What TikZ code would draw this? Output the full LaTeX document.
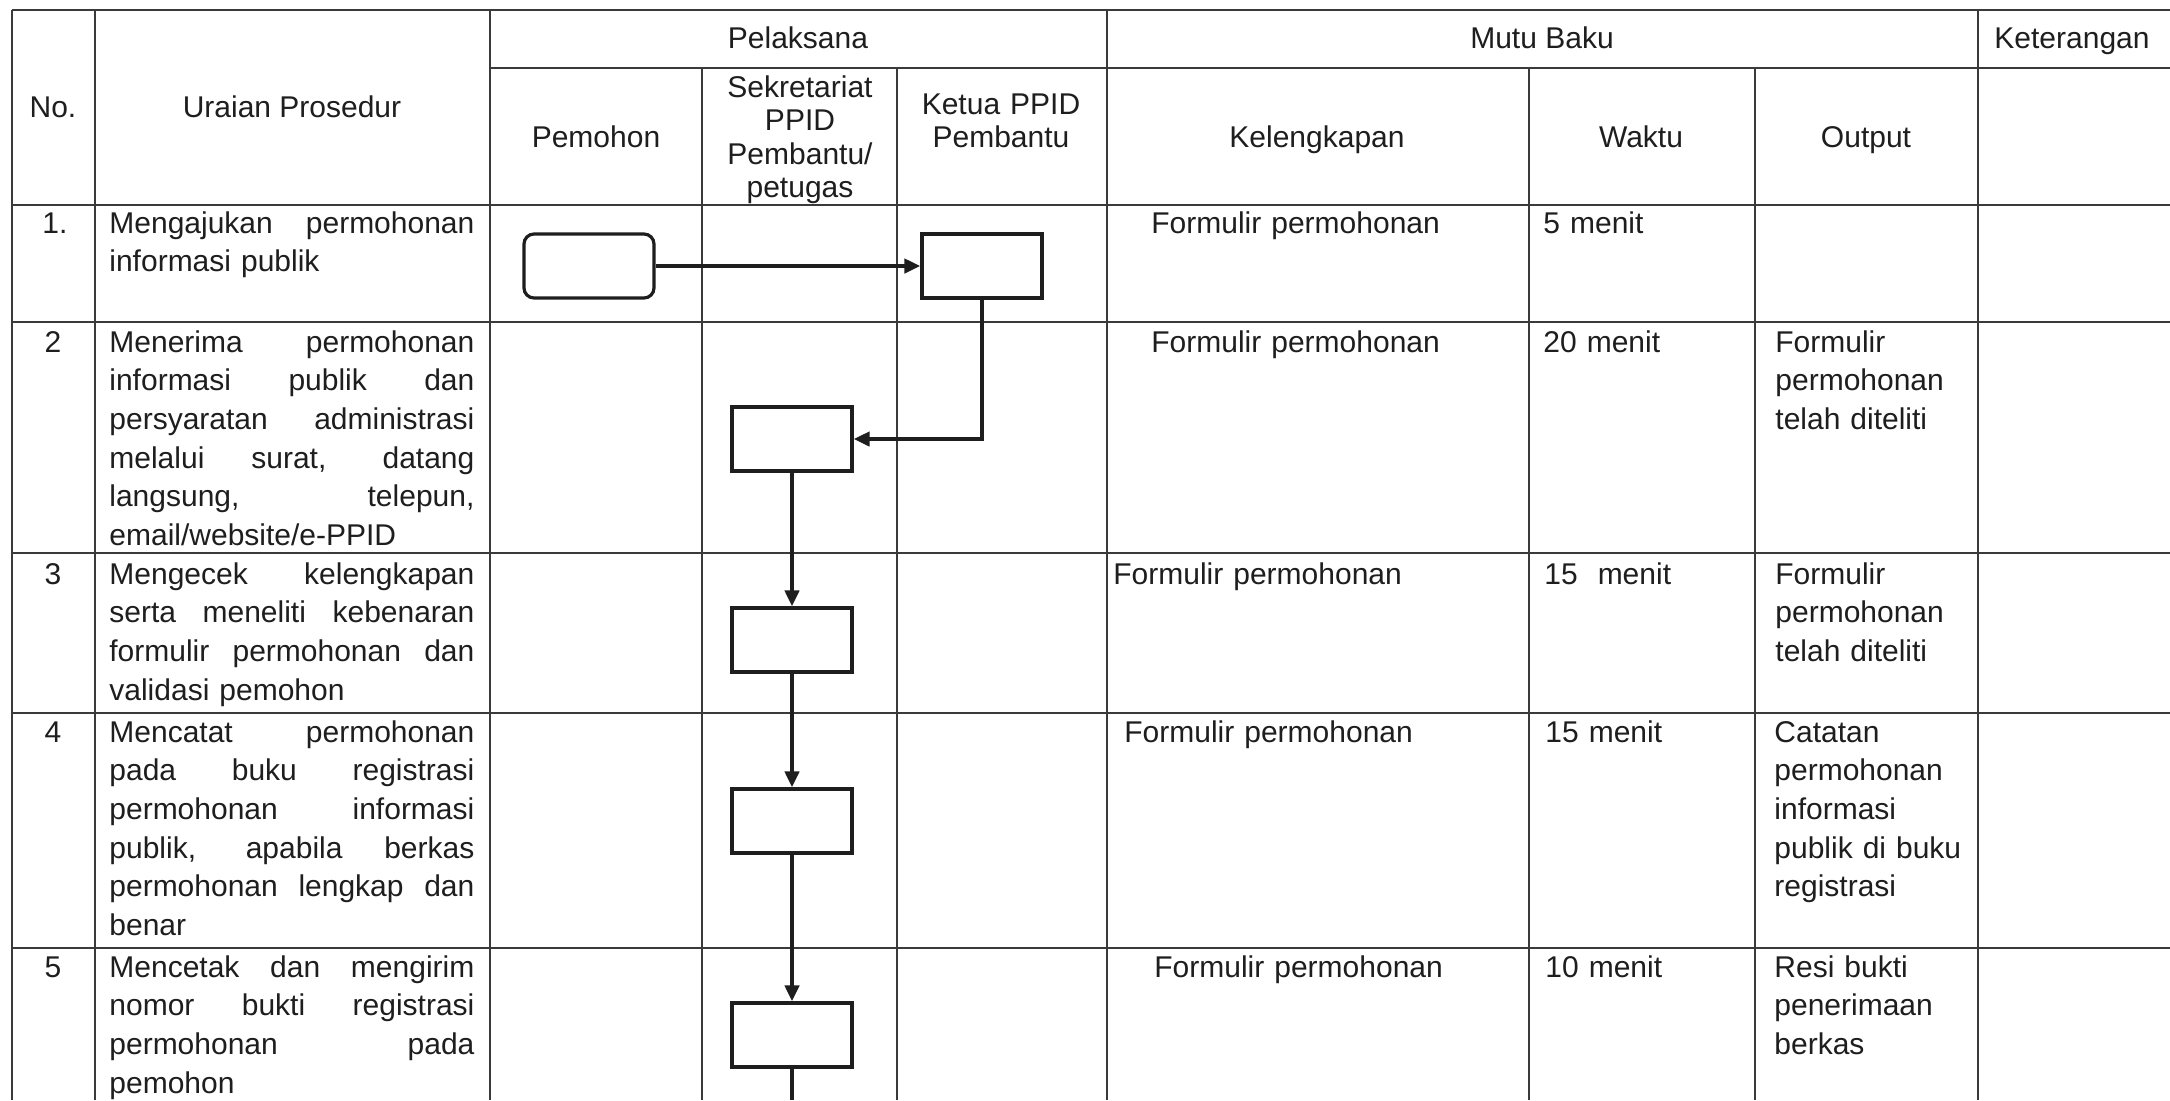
\documentclass[tikz,border=0pt]{standalone}
\usepackage{fontspec}
\setmainfont{Liberation Sans}
\usetikzlibrary{arrows.meta}
\definecolor{ink}{HTML}{1E1E1E}
\definecolor{rulec}{HTML}{3A3A3A}
\newcommand\jst[1]{{\spaceskip=0.3333em plus 20em\relax\makebox[\linewidth][s]{#1}}}
\begin{document}
\begin{tikzpicture}[x=0.5pt,y=-0.5pt,
  every node/.style={font=\fontsize{15pt}{19.35pt}\selectfont, text=ink, inner sep=0pt},
  gridline/.style={draw=rulec, line width=1pt},
  hd/.style={anchor=base},
  hdm/.style={anchor=base, text width=110pt, align=center, font=\fontsize{15pt}{16.75pt}\selectfont},
  txt/.style={anchor=base west, text width=200pt, align=left},
  para/.style={anchor=base west, text width=182.5pt, align=left},
  procbox/.style={draw=ink, line width=1.6pt, minimum width=60pt, minimum height=32pt, inner sep=0pt},
  startbox/.style={procbox, rounded corners=5pt, minimum width=65pt},
  flow/.style={draw=ink, line width=2pt, -{Triangle[length=8pt,width=7pt]}},
  plainflow/.style={draw=ink, line width=2pt},
]
\fill[white] (0,0) rectangle (2170,1100);
\useasboundingbox (0,0) rectangle (2170,1100);

% ---------- grid ----------
\foreach \yy in {10,205,322,553,713,948} \draw[gridline] (12,\yy) -- (2170,\yy);
\draw[gridline] (490,68) -- (2170,68);
\foreach \xx in {12,95,490,1107,1978} \draw[gridline] (\xx,10) -- (\xx,1100);
\foreach \xx in {702,897,1529,1755} \draw[gridline] (\xx,68) -- (\xx,1100);

% ---------- header ----------
\node[hd] (hno) at (53,117) {No.};
\node[hd] (hur) at (292,117) {Uraian Prosedur};
\node[hd] (hpl) at (798,48) {Pelaksana};
\node[hd] (hmb) at (1542,48) {Mutu Baku};
\node[hd] (hket) at (2072,48) {Keterangan};
\node[hd] (hpem) at (596,147) {Pemohon};
\node[hdm] (hsek) at (800,97) {Sekretariat\\PPID\\Pembantu/\\petugas};
\node[hdm] (hket2) at (1001,114) {Ketua PPID\\Pembantu};
\node[hd] (hkel) at (1317,147) {Kelengkapan};
\node[hd] (hwak) at (1641,147) {Waktu};
\node[hd] (hout) at (1866,147) {Output};

% ---------- numbers ----------
\node[hd] (n1) at (55,233) {1.};
\node[hd] (n2) at (53,352) {2};
\node[hd] (n3) at (53,584) {3};
\node[hd] (n4) at (53,742) {4};
\node[hd] (n5) at (53,977) {5};

% ---------- procedures ----------
\node[para] (u1) at (109,233) {\jst{Mengajukan permohonan}\\informasi publik};
\node[para] (u2) at (109,352) {\jst{Menerima permohonan}\\\jst{informasi publik dan}\\\jst{persyaratan administrasi}\\\jst{melalui surat, datang}\\\jst{langsung, telepun,}\\email/website/e-PPID};
\node[para] (u3) at (109,584) {\jst{Mengecek kelengkapan}\\\jst{serta meneliti kebenaran}\\\jst{formulir permohonan dan}\\validasi pemohon};
\node[para] (u4) at (109,742) {\jst{Mencatat permohonan}\\\jst{pada buku registrasi}\\\jst{permohonan informasi}\\\jst{publik, apabila berkas}\\\jst{permohonan lengkap dan}\\benar};
\node[para] (u5) at (109,977) {\jst{Mencetak dan mengirim}\\\jst{nomor bukti registrasi}\\\jst{permohonan pada}\\pemohon};

% ---------- kelengkapan ----------
\node[txt] (k1t) at (1151,233) {Formulir permohonan};
\node[txt] (k2t) at (1151,352) {Formulir permohonan};
\node[txt] (k3t) at (1113,584) {Formulir permohonan};
\node[txt] (k4t) at (1124,742) {Formulir permohonan};
\node[txt] (k5t) at (1154,977) {Formulir permohonan};

% ---------- waktu ----------
\node[txt] (w1) at (1543,233) {5 menit};
\node[txt] (w2) at (1543,352) {20 menit};
\node[txt] (w3) at (1544,584) {15\ \ menit};
\node[txt] (w4) at (1545,742) {15 menit};
\node[txt] (w5) at (1545,977) {10 menit};

% ---------- output ----------
\node[txt] (o2) at (1775,352) {Formulir\\permohonan\\telah diteliti};
\node[txt] (o3) at (1775,584) {Formulir\\permohonan\\telah diteliti};
\node[txt] (o4) at (1774,742) {Catatan\\permohonan\\informasi\\publik di buku\\registrasi};
\node[txt] (o5) at (1774,977) {Resi bukti\\penerimaan\\berkas};

% ---------- flow ----------
\node[startbox] (r1) at (589,266) {};
\node[procbox] (k1) at (982,266) {};
\node[procbox] (s2) at (792,439) {};
\node[procbox] (s3) at (792,640) {};
\node[procbox] (s4) at (792,821) {};
\node[procbox] (s5) at (792,1035) {};
\coordinate (cont) at (792,1100);

\draw[flow] (r1) -- (k1);
\draw[flow] (k1.south) |- (s2.east);
\draw[flow] (s2) -- (s3);
\draw[flow] (s3) -- (s4);
\draw[flow] (s4) -- (s5);
\draw[plainflow] (s5.south) -- (cont);
\end{tikzpicture}
\end{document}
